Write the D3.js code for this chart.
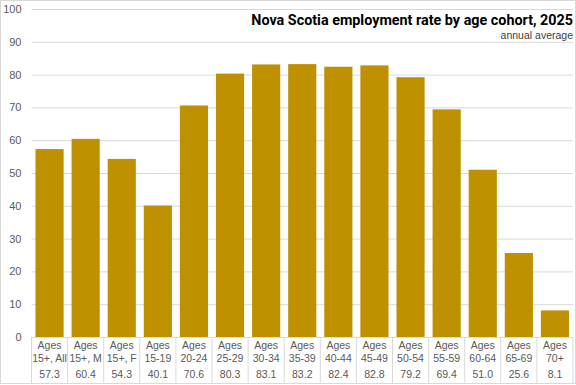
<!DOCTYPE html>
<html><head><meta charset="utf-8">
<script src="https://cdn.jsdelivr.net/npm/d3@7"></script>
<style>
html,body{margin:0;padding:0;background:#fff;}
svg{display:block;}
</style></head>
<body>
<svg id="chart" width="576" height="385"></svg>
<script>
const categories = ["Ages|15+, All","Ages|15+, M","Ages|15+, F","Ages|15-19","Ages|20-24","Ages|25-29","Ages|30-34","Ages|35-39","Ages|40-44","Ages|45-49","Ages|50-54","Ages|55-59","Ages|60-64","Ages|65-69","Ages|70+"];
const values = [57.3,60.4,54.3,40.1,70.6,80.3,83.1,83.2,82.4,82.8,79.2,69.4,51.0,25.6,8.1];
const yTicks = [0,10,20,30,40,50,60,70,80,90,100];
const titleText = "Nova Scotia employment rate by age cohort, 2025";
const subtitleText = "annual average";

const W = 576, H = 385;
const m = {left: 31.5, right: 3, top: 9, bottom: 48};
const svg = d3.select("#chart");
const font = "'Liberation Sans', Arial, sans-serif";

// outer border
svg.append("rect").attr("x",0.5).attr("y",0.5).attr("width",W-1).attr("height",H-2)
  .attr("fill","#fff").attr("stroke","#d9d9d9");

const x = d3.scaleBand().domain(categories).range([m.left, W - m.right]).paddingInner(0.22).paddingOuter(0.11);
const y = d3.scaleLinear().domain([0,100]).range([H - m.bottom, m.top]);

// gridlines
const yAxis = d3.axisLeft(y).tickValues(yTicks).tickSize(-(W - m.right - m.left)).tickFormat(d3.format("d"));
const gy = svg.append("g").attr("transform",`translate(${m.left},0)`).call(yAxis);
gy.select(".domain").remove();
gy.selectAll(".tick line").attr("stroke","#d9d9d9").attr("stroke-width",1);
gy.selectAll(".tick text").attr("x",-10).attr("fill","#595959").style("font-family",font).style("font-size","11px");

// bars
svg.append("g").selectAll("rect").data(values).join("rect")
  .attr("x",(d,i)=>x(categories[i]))
  .attr("width",x.bandwidth())
  .attr("y",d=>y(d))
  .attr("height",d=>y(0)-y(d))
  .attr("fill","#BF9000");

// data table
const step = x.step();
const x0 = m.left;
const tableTop = y(0), tableBottom = H - 2;
const tg = svg.append("g");
for (let i = 0; i <= categories.length; i++) {
  const xx = x0 + i*step;
  tg.append("line").attr("x1",xx).attr("x2",xx).attr("y1",tableTop).attr("y2",tableBottom)
    .attr("stroke","#d9d9d9").attr("stroke-width",1);
}
categories.forEach((c,i)=>{
  const cx = x(c) + x.bandwidth()/2;
  const parts = c.split("|");
  tg.append("text").attr("x",cx).attr("y",349).attr("text-anchor","middle")
    .attr("fill","#595959").style("font-family",font).style("font-size","10.5px").text(parts[0]);
  tg.append("text").attr("x",cx).attr("y",361.5).attr("text-anchor","middle")
    .attr("fill","#595959").style("font-family",font).style("font-size","10.5px").text(parts[1]);
  tg.append("text").attr("x",cx).attr("y",378).attr("text-anchor","middle")
    .attr("fill","#595959").style("font-family",font).style("font-size","10.5px").text(d3.format(".1f")(values[i]));
});

// title
const title = svg.append("text").attr("x",573).attr("y",24.5).attr("text-anchor","end")
  .style("font-family","'Liberation Sans Narrow', 'Roboto', Arial, sans-serif").style("font-weight","bold").style("font-size","16px")
  .attr("fill","#000").text(titleText);
const natural = title.node().getComputedTextLength();
const target = 322;
let fs = 16 * target / natural;
fs = Math.max(14, Math.min(17, fs));
title.style("font-size", fs + "px");
svg.append("text").attr("x",573).attr("y",38.5).attr("text-anchor","end")
  .style("font-family",font).style("font-size","10.5px").attr("fill","#404040").text(subtitleText);
</script>
</body></html>
